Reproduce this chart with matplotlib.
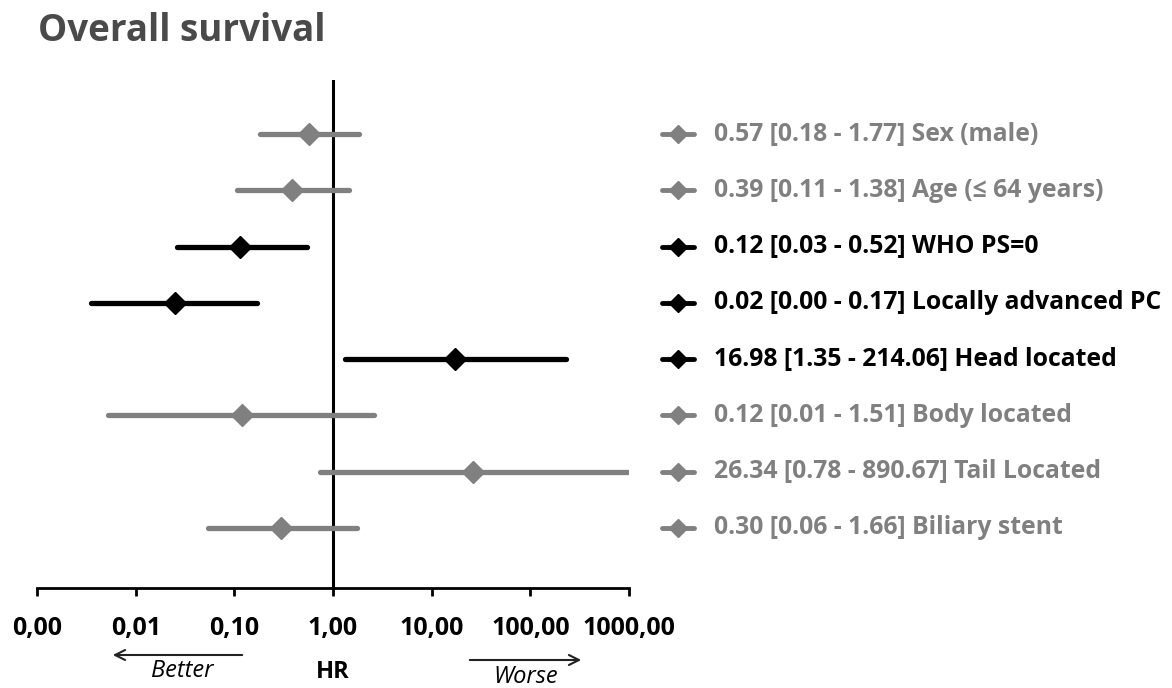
import matplotlib.pyplot as plt
from matplotlib.ticker import FixedLocator, FixedFormatter

# values as drawn in the figure (HR and 95% CI)
hr = [0.57, 0.38, 0.114, 0.025, 17.2, 0.12, 26.3, 0.30]
ci_low = [0.18, 0.107, 0.026, 0.0035, 1.32, 0.0052, 0.74, 0.054]
ci_high = [1.83, 1.45, 0.55, 0.17, 230.0, 2.6, 977.0, 1.75]
significant = [False, False, True, True, True, False, False, False]
row_labels = [
    "0.57 [0.18 - 1.77] Sex (male)",
    "0.39 [0.11 - 1.38] Age (\u2264 64 years)",
    "0.12 [0.03 - 0.52] WHO PS=0",
    "0.02 [0.00 - 0.17] Locally advanced PC",
    "16.98 [1.35 - 214.06] Head located",
    "0.12 [0.01 - 1.51] Body located",
    "26.34 [0.78 - 890.67] Tail Located",
    "0.30 [0.06 - 1.66] Biliary stent",
]
tick_values = [0.001, 0.01, 0.1, 1, 10, 100, 1000]
tick_labels = ["0,00", "0,01", "0,10", "1,00", "10,00", "100,00", "1000,00"]

GREY = "#808080"
plt.rcParams['font.family'] = ['Open Sans', 'DejaVu Sans']

fig = plt.figure(figsize=(11.72, 6.88), dpi=100)
ax = fig.add_axes([0.0316, 0.1453, 0.5051, 0.7384])

ax.set_xscale('log')
ax.set_xlim(0.001, 1000)
ax.set_ylim(9.07, 0.04)

ax.axvline(1, color='black', lw=2.2, zorder=1)

tr = ax.get_yaxis_transform()
for i in range(len(hr)):
    y = i + 1
    c = 'black' if significant[i] else GREY
    ax.plot([ci_low[i], ci_high[i]], [y, y], color=c, lw=3.8,
            solid_capstyle='round', zorder=2)
    ax.plot(hr[i], y, marker='D', color=c, markersize=11.5, zorder=3)

    # legend-like label on the right
    ax.plot([1.056, 1.110], [y, y], color=c, lw=3.5, transform=tr,
            clip_on=False, solid_capstyle='round')
    ax.plot(1.083, y, marker='D', color=c, markersize=9, transform=tr,
            clip_on=False)
    ax.text(1.144, y, row_labels[i], transform=tr, color=c, fontsize=17.8,
            fontweight='bold', va='center', ha='left')

for s in ['left', 'right', 'top']:
    ax.spines[s].set_visible(False)
ax.spines['bottom'].set_linewidth(2)
ax.set_yticks([])

ax.xaxis.set_major_locator(FixedLocator(tick_values))
ax.xaxis.set_major_formatter(FixedFormatter(tick_labels))
ax.xaxis.set_minor_locator(FixedLocator([]))
ax.tick_params(axis='x', direction='out', length=6, width=2, pad=14,
               labelsize=18)
for lbl in ax.get_xticklabels():
    lbl.set_fontweight('bold')

fig.text(0.032, 0.955, "Overall survival", fontsize=26.5, fontweight='bold',
         color='#4a4a4a', va='center', ha='left')

# Better / HR / Worse annotations under the axis
ax.annotate("", xy=(110 / 1172, 1 - 655 / 688), xytext=(245 / 1172, 1 - 655 / 688),
            xycoords='figure fraction', textcoords='figure fraction',
            arrowprops=dict(arrowstyle='->', color='#222222', lw=1.5,
                            mutation_scale=18))
ax.annotate("", xy=(584 / 1172, 1 - 660 / 688), xytext=(467 / 1172, 1 - 660 / 688),
            xycoords='figure fraction', textcoords='figure fraction',
            arrowprops=dict(arrowstyle='->', color='#222222', lw=1.5,
                            mutation_scale=18))
fig.text(182 / 1172, 1 - 671 / 688, "Better", fontsize=17, style='italic',
         ha='center', va='center')
fig.text(333 / 1172, 1 - 672 / 688, "HR", fontsize=17, fontweight='bold',
         ha='center', va='center')
fig.text(526 / 1172, 1 - 677 / 688, "Worse", fontsize=17, style='italic',
         ha='center', va='center')

fig.savefig("out.png", dpi=100)
